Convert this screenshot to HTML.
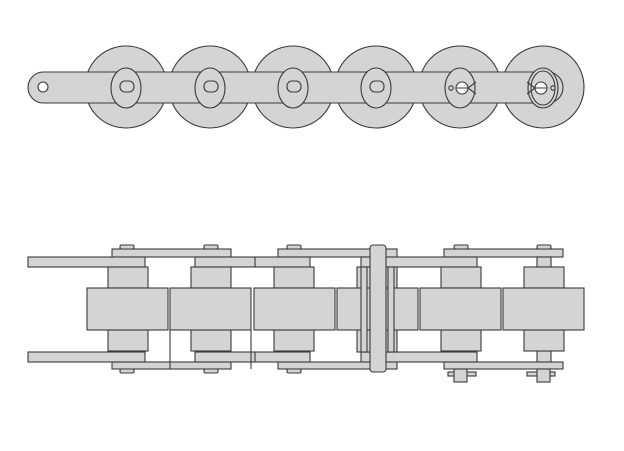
<!DOCTYPE html>
<html><head><meta charset="utf-8"><style>html,body{margin:0;padding:0;background:#fff}svg{display:block}</style></head>
<body>
<svg width="624" height="451" viewBox="0 0 624 451" xmlns="http://www.w3.org/2000/svg">
<g fill="#d4d4d4" stroke="#3a3a3a" stroke-width="1.1">
<!-- TOP VIEW -->
<circle cx="126" cy="87" r="41"/><circle cx="210" cy="87" r="41"/><circle cx="293" cy="87" r="41"/>
<circle cx="376" cy="87" r="41"/><circle cx="460" cy="87" r="41"/><circle cx="543" cy="87" r="41"/>
<rect x="28" y="72" width="535" height="31" rx="15.5"/>
<g>
<ellipse cx="126" cy="88" rx="15" ry="20"/><rect x="120" y="81" width="14" height="11" rx="5"/>
<ellipse cx="210" cy="88" rx="15" ry="20"/><rect x="204" y="81" width="14" height="11" rx="5"/>
<ellipse cx="293" cy="88" rx="15" ry="20"/><rect x="287" y="81" width="14" height="11" rx="5"/>
<ellipse cx="376" cy="88" rx="15" ry="20"/><rect x="370" y="81" width="14" height="11" rx="5"/>
<ellipse cx="460" cy="88" rx="15" ry="20"/>
<ellipse cx="543" cy="88" rx="15" ry="20"/><ellipse cx="543" cy="88" rx="12" ry="17" fill="none"/>
</g>
<circle cx="43" cy="87" r="5" fill="#fff"/>
<circle cx="462" cy="88" r="6" fill="#fff"/><circle cx="451" cy="88" r="2.2"/>
<path d="M468,88 L476,82 M468,88 L476,94 M456,88 L468,88" fill="none"/>
<circle cx="541" cy="88" r="6" fill="#fff"/><circle cx="553" cy="88" r="2.2"/>
<path d="M535,88 L527,82 M535,88 L527,94 M535,88 L547,88" fill="none"/>

<!-- SIDE VIEW -->
<rect x="112" y="249" width="119" height="8"/><rect x="278" y="249" width="119" height="8"/><rect x="444" y="249" width="119" height="8"/>
<rect x="112" y="362" width="119" height="7"/><rect x="278" y="362" width="119" height="7"/><rect x="444" y="362" width="119" height="7"/>
<rect x="120" y="245" width="14" height="4" rx="1.5"/><rect x="204" y="245" width="14" height="4" rx="1.5"/><rect x="287" y="245" width="14" height="4" rx="1.5"/>
<rect x="454" y="245" width="14" height="4" rx="1.5"/><rect x="537" y="245" width="14" height="4" rx="1.5"/>
<rect x="120" y="369" width="14" height="4" rx="1.5"/><rect x="204" y="369" width="14" height="4" rx="1.5"/><rect x="287" y="369" width="14" height="4" rx="1.5"/>
<rect x="28" y="257" width="117" height="10"/><rect x="195" y="257" width="115" height="10"/><rect x="361" y="257" width="116" height="10"/>
<rect x="28" y="352" width="117" height="10"/><rect x="195" y="352" width="115" height="10"/><rect x="361" y="352" width="116" height="10"/>
<line x1="255" y1="257" x2="255" y2="267"/><line x1="255" y1="352" x2="255" y2="362"/>
<rect x="537" y="257" width="14" height="10"/><rect x="537" y="351" width="14" height="11"/>
<rect x="108" y="267" width="40" height="21"/><rect x="191" y="267" width="40" height="21"/><rect x="274" y="267" width="40" height="21"/>
<rect x="441" y="267" width="40" height="21"/><rect x="524" y="267" width="40" height="21"/>
<rect x="108" y="330" width="40" height="21"/><rect x="191" y="330" width="40" height="21"/><rect x="274" y="330" width="40" height="21"/>
<rect x="441" y="330" width="40" height="21"/><rect x="524" y="330" width="40" height="21"/>
<rect x="357" y="267" width="40" height="85"/>
<rect x="87" y="288" width="81" height="42"/><rect x="170" y="288" width="81" height="42"/><rect x="254" y="288" width="81" height="42"/>
<rect x="337" y="288" width="81" height="42"/><rect x="420" y="288" width="81" height="42"/><rect x="503" y="288" width="81" height="42"/>
<line x1="170" y1="330" x2="170" y2="369"/><line x1="251" y1="330" x2="251" y2="369"/>
<rect x="361" y="267" width="6" height="85"/><rect x="388" y="267" width="6" height="85"/>
<rect x="370" y="245" width="16" height="127" rx="3"/>
<rect x="448" y="372" width="28" height="4"/><rect x="454" y="369" width="13" height="13"/>
<rect x="527" y="372" width="28" height="4"/><rect x="537" y="369" width="13" height="13"/>
</g>
</svg>
</body></html>
